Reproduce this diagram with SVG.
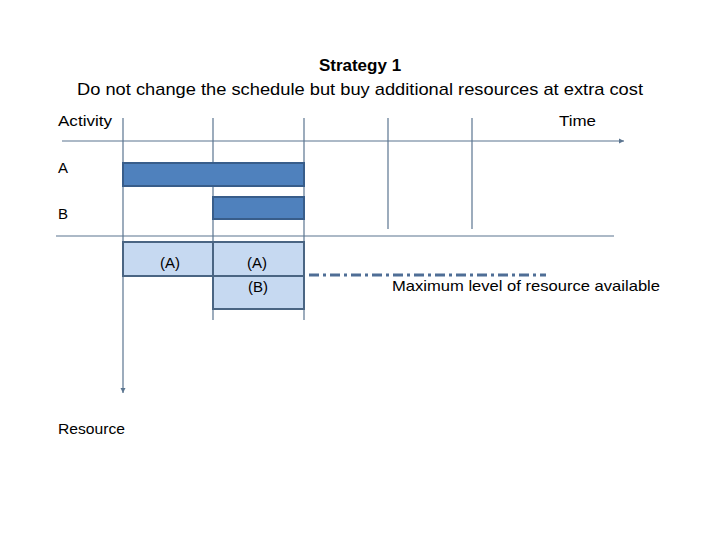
<svg xmlns="http://www.w3.org/2000/svg" width="720" height="540" viewBox="0 0 720 540">
<defs>
<style>
text{font-family:"Liberation Sans",Arial,sans-serif;fill:#000}
.ax{stroke:#5b7590;stroke-width:1.2;fill:none}
.bar{fill:#4f81bd;stroke:#385d8a;stroke-width:2}
.res{fill:#c6d9f1;stroke:#4a6583;stroke-width:2}
.lbl{font-size:15px}
</style>
<marker id="ah" markerWidth="6" markerHeight="6" refX="5" refY="3" orient="auto" markerUnits="userSpaceOnUse">
<path d="M0,0.5 L5,3 L0,5.5 z" fill="#5b7590"/>
</marker>
</defs>
<rect width="720" height="540" fill="#fff"/>
<g id="title">
<text x="360" y="71" font-size="17" font-weight="bold" text-anchor="middle">Strategy 1</text>
<text x="77" y="95" font-size="17" textLength="566" lengthAdjust="spacingAndGlyphs">Do not change the schedule but buy additional resources at extra cost</text>
</g>
<g id="connectors">
<line class="ax" x1="62" y1="141" x2="430" y2="141"/>
<line class="ax" x1="430" y1="141" x2="624" y2="141" stroke-width="2" marker-end="url(#ah)"/>
<line class="ax" x1="123" y1="118" x2="123" y2="393" marker-end="url(#ah)"/>
<line class="ax" x1="213" y1="118" x2="213" y2="320"/>
<line class="ax" x1="304" y1="118" x2="304" y2="320"/>
<line class="ax" x1="388" y1="118" x2="388" y2="229"/>
<line class="ax" x1="472" y1="118" x2="472" y2="229"/>
<line class="ax" x1="56" y1="236" x2="614" y2="236"/>
<line x1="309" y1="275" x2="546" y2="275" stroke="#4f6e96" stroke-width="3" stroke-dasharray="10,4,3,4"/>
</g>
<g id="labels">
<text class="lbl" x="58" y="126" textLength="54" lengthAdjust="spacingAndGlyphs">Activity</text>
<text class="lbl" x="559" y="126" textLength="37" lengthAdjust="spacingAndGlyphs">Time</text>
<text class="lbl" x="58" y="173">A</text>
<text class="lbl" x="58" y="219">B</text>
<text class="lbl" x="58" y="434" textLength="67" lengthAdjust="spacingAndGlyphs">Resource</text>
<text class="lbl" x="392" y="291" textLength="268" lengthAdjust="spacingAndGlyphs">Maximum level of resource available</text>
</g>
<g id="barA"><rect class="bar" x="123" y="163" width="181" height="23"/></g>
<g id="barB"><rect class="bar" x="213" y="197" width="91" height="22"/></g>
<g id="resA1">
<rect class="res" x="123" y="242" width="90" height="34"/>
<text class="lbl" x="170" y="268" text-anchor="middle">(A)</text>
</g>
<g id="resA2">
<rect class="res" x="213" y="242" width="91" height="34"/>
<text class="lbl" x="257" y="268" text-anchor="middle">(A)</text>
</g>
<g id="resB">
<rect class="res" x="213" y="276" width="91" height="33"/>
<text class="lbl" x="258" y="292" text-anchor="middle">(B)</text>
</g>
</svg>
